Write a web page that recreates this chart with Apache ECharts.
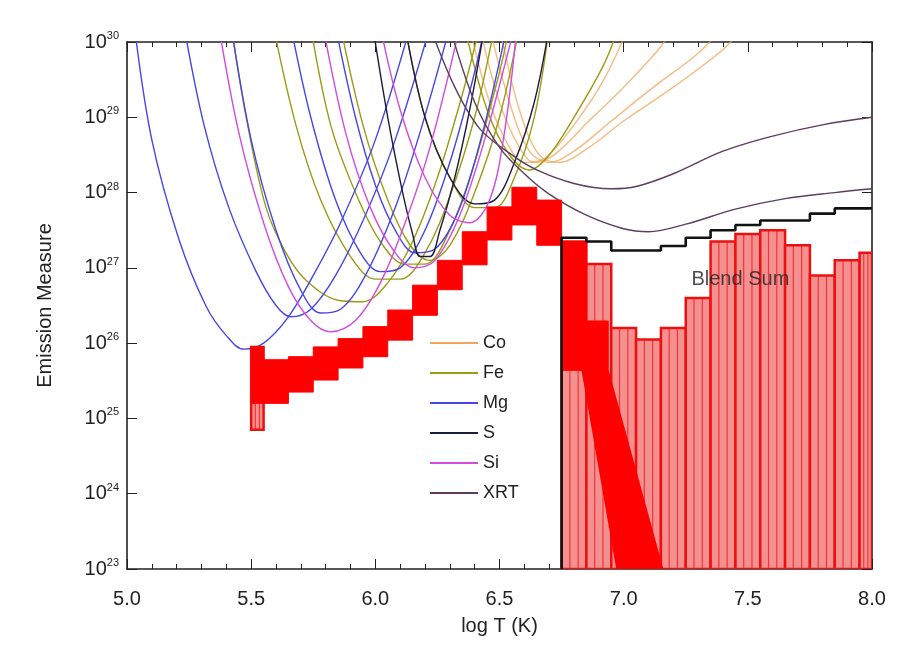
<!DOCTYPE html>
<html><head><meta charset="utf-8">
<script src="https://cdn.jsdelivr.net/npm/echarts@6/dist/echarts.min.js"></script>
<style>html,body{margin:0;padding:0;background:#fff}#c{width:897px;height:646px}</style>
</head><body><div id="c"></div>
<script>
// x = log T (K), y = log10 of Emission Measure
const X_RANGE = [5.0, 8.0];
const Y_EXP_RANGE = [23, 30];
const ELEMENTS = ['Co', 'Fe', 'Mg', 'S', 'Si', 'XRT'];

// EM loci curves, [logT, logEM]
const CO_CURVES = [
  [[6.38,30.2],[6.46,29.2],[6.54,28.6],[6.6,28.4],[6.68,28.45],[6.8,28.9],[6.92,29.5],[7.02,30.2]],
  [[6.42,30.2],[6.5,29.2],[6.58,28.6],[6.64,28.4],[6.72,28.5],[6.86,28.95],[7.0,29.4],[7.14,29.9],[7.2,30.2]],
  [[6.46,30.2],[6.54,29.2],[6.62,28.55],[6.7,28.4],[6.8,28.55],[6.95,28.95],[7.12,29.4],[7.3,29.85],[7.4,30.2]],
  [[6.5,30.2],[6.58,29.1],[6.66,28.5],[6.74,28.4],[6.86,28.6],[7.0,28.95],[7.2,29.4],[7.4,29.9],[7.48,30.2]]
];
const FE_CURVES = [
  [[5.42,30.2],[5.48,29.0],[5.56,27.8],[5.64,27.2],[5.72,26.84],[5.85,26.57],[5.95,26.55],[6.05,26.8],[6.15,27.35],[6.25,28.2],[6.35,29.3],[6.42,30.2]],
  [[5.59,30.2],[5.68,28.9],[5.78,27.9],[5.9,27.15],[6.0,26.85],[6.1,26.85],[6.2,27.2],[6.3,27.95],[6.4,29.0],[6.48,30.2]],
  [[5.74,30.2],[5.82,28.9],[5.92,28.0],[6.02,27.35],[6.12,27.05],[6.2,27.05],[6.3,27.5],[6.4,28.4],[6.5,29.6],[6.54,30.2]],
  [[5.86,30.2],[5.95,28.9],[6.05,27.9],[6.14,27.3],[6.22,27.1],[6.3,27.3],[6.4,28.0],[6.5,29.0],[6.58,30.2]],
  [[6.12,30.2],[6.2,29.0],[6.3,28.2],[6.4,27.8],[6.48,27.8],[6.56,28.2],[6.64,29.0],[6.7,30.2]],
  [[6.36,30.2],[6.45,29.1],[6.54,28.5],[6.62,28.3],[6.7,28.5],[6.8,29.0],[6.92,29.7],[6.98,30.2]]
];
const MG_CURVES = [
  [[5.03,30.2],[5.1,28.7],[5.21,27.37],[5.32,26.48],[5.4,26.1],[5.47,25.92],[5.55,26.0],[5.65,26.35],[5.75,26.9],[5.86,27.6],[6.0,28.7],[6.14,30.2]],
  [[5.23,30.2],[5.31,28.9],[5.41,27.8],[5.52,26.95],[5.6,26.5],[5.66,26.35],[5.74,26.45],[5.84,26.9],[5.96,27.7],[6.08,28.7],[6.22,30.2]],
  [[5.42,30.2],[5.5,28.7],[5.6,27.5],[5.7,26.7],[5.78,26.4],[5.86,26.45],[5.96,26.9],[6.08,27.8],[6.18,28.8],[6.3,30.2]],
  [[5.66,30.2],[5.74,29.0],[5.84,27.9],[5.94,27.2],[6.02,26.95],[6.1,27.0],[6.2,27.5],[6.3,28.4],[6.4,29.6],[6.44,30.2]],
  [[5.84,30.2],[5.92,29.0],[6.0,28.1],[6.08,27.5],[6.16,27.2],[6.24,27.25],[6.34,27.8],[6.44,28.9],[6.53,30.2]]
];
const S_CURVES = [
  [[5.99,30.2],[6.05,29.0],[6.11,28.0],[6.15,27.45],[6.18,27.15],[6.22,27.15],[6.26,27.5],[6.32,28.2],[6.38,29.1],[6.44,30.2]],
  [[6.12,30.2],[6.2,29.0],[6.3,28.2],[6.4,27.85],[6.48,27.9],[6.56,28.4],[6.64,29.2],[6.7,30.2]]
];
const SI_CURVES = [
  [[5.37,30.2],[5.45,28.8],[5.55,27.6],[5.65,26.75],[5.74,26.3],[5.82,26.15],[5.92,26.3],[6.02,26.8],[6.12,27.6],[6.22,28.6],[6.34,30.2]],
  [[5.79,30.2],[5.88,28.8],[5.98,27.8],[6.08,27.2],[6.16,27.0],[6.24,27.1],[6.34,27.7],[6.44,28.7],[6.56,30.2]],
  [[6.02,30.2],[6.1,29.1],[6.2,28.2],[6.3,27.7],[6.38,27.6],[6.46,27.9],[6.52,28.8],[6.57,30.2]]
];
const XRT_CURVES = [
  [[6.22,30.2],[6.32,29.4],[6.42,28.85],[6.55,28.5],[6.65,28.3],[6.8,28.12],[6.95,28.05],[7.05,28.08],[7.2,28.25],[7.4,28.55],[7.6,28.75],[7.8,28.9],[8.0,29.0]],
  [[6.3,30.2],[6.4,29.2],[6.5,28.6],[6.6,28.25],[6.7,27.98],[6.85,27.7],[7.0,27.52],[7.1,27.48],[7.25,27.58],[7.45,27.78],[7.65,27.92],[7.85,28.0],[8.0,28.05]]
];

// DEM solution bins: [logT from, logT to, logEM low, logEM high]
const DEM_BINS = [
  [5.50,5.55,25.20,25.95],[5.55,5.65,25.20,25.78],[5.65,5.75,25.35,25.82],
  [5.75,5.85,25.51,25.95],[5.85,5.95,25.67,26.06],[5.95,6.05,25.82,26.22],
  [6.05,6.15,26.04,26.44],[6.15,6.25,26.37,26.77],[6.25,6.35,26.71,27.10],
  [6.35,6.45,27.04,27.48],[6.45,6.55,27.37,27.81],[6.55,6.65,27.57,28.07],
  [6.65,6.75,27.30,27.90],[6.75,6.85,25.64,27.35]
];
// high-temperature tail of the DEM solution (outline vertices)
const DEM_TAIL = [[6.75,25.7],[6.85,25.7],[6.85,26.3],[6.94,26.3],[6.94,25.64],[7.16,23.0],[6.97,23.0],[6.83,25.64],[6.75,25.64]];
// Monte-Carlo spread bins: [logT from, logT to, logEM low, logEM high]
const MC_BINS = [
  [5.50,5.55,24.85,25.95],
  [6.75,6.85,23,27.35],[6.85,6.95,23,27.05],[6.95,7.05,23,26.20],[7.05,7.15,23,26.05],
  [7.15,7.25,23,26.20],[7.25,7.35,23,26.60],[7.35,7.45,23,27.35],[7.45,7.55,23,27.45],
  [7.55,7.65,23,27.50],[7.65,7.75,23,27.30],[7.75,7.85,23,26.90],[7.85,7.95,23,27.10],
  [7.95,8.00,23,27.20]
];
// summed (black) step curve
const SUM_STEPS = [[6.75,23],[6.75,27.40],[6.85,27.35],[6.95,27.23],[7.15,27.29],[7.25,27.40],[7.35,27.50],[7.45,27.57],[7.55,27.63],[7.75,27.72],[7.85,27.79],[8.0,27.79]];
const LABEL_POINT = [[7.47, 26.84]];
const LABEL_TEXT = 'Blend Sum';

const COLORS = {Co:'#f2a458', Fe:'#9b9b14', Mg:'#4646e4', S:'#1c1c3c', Si:'#d24ade', XRT:'#5e3d5e'};
const CURVES = {Co:CO_CURVES, Fe:FE_CURVES, Mg:MG_CURVES, S:S_CURVES, Si:SI_CURVES, XRT:XRT_CURVES};

const FONT = '"Liberation Sans", Arial, sans-serif';
const series = [];
ELEMENTS.forEach(el => {
  CURVES[el].forEach(c => {
    series.push({
      name: el, type: 'line', data: c, smooth: 0.35, showSymbol: false, symbol: 'none',
      lineStyle: {color: COLORS[el], width: 1.4, opacity: el === 'Co' ? 0.75 : 1},
      itemStyle: {color: COLORS[el]}, z: 2, silent: true, clip: true
    });
  });
});

function rectRender(fill, stroke, lw, inner) {
  return function (params, api) {
    const a = api.coord([api.value(0), api.value(3)]);
    const b = api.coord([api.value(1), api.value(2)]);
    const children = [{type:'rect', shape:{x:a[0], y:a[1], width:b[0]-a[0], height:b[1]-a[1]},
      style:{fill: fill, stroke: stroke, lineWidth: lw}}];
    if (inner) {
      [1/3, 2/3].forEach(f => {
        const m = a[0] + (b[0]-a[0]) * f;
        children.push({type:'line', shape:{x1:m, y1:a[1], x2:m, y2:b[1]}, style:{stroke: stroke, lineWidth: 1.2, opacity: 0.7}});
      });
    }
    return {type:'group', children};
  };
}

series.push({
  type:'custom', name:'mc', data: MC_BINS, encode:{x:[0,1], y:[2,3]}, clip:true, z:3, silent:true,
  renderItem: rectRender('#f59090', '#ee1010', 2.5, true)
});
series.push({
  type:'custom', name:'dem', data: DEM_BINS, encode:{x:[0,1], y:[2,3]}, clip:true, z:4, silent:true,
  renderItem: rectRender('#ff0000', '#ff0000', 1, false)
});
series.push({
  type:'custom', name:'tail', data: DEM_TAIL, encode:{x:0, y:1}, clip:true, z:4, silent:true,
  renderItem: function (params, api) {
    if (params.dataIndex !== 0) return null;
    const pts = DEM_TAIL.map(p => api.coord(p));
    return {type:'polygon', shape:{points: pts}, style:{fill:'#ff0000'}};
  }
});
series.push({
  type:'line', name:'sum', data: SUM_STEPS, step:'end', showSymbol:false, symbol:'none',
  lineStyle:{color:'#111', width:2.6}, z:5, silent:true
});
series.push({
  type:'scatter', name:'label', data: LABEL_POINT, symbolSize: 0, z:6, silent:true,
  label:{show:true, position:'inside', formatter: LABEL_TEXT, fontFamily: FONT, fontSize: 20, color:'#222'}
});

const supLabel = v => '{b|10}{s|' + v + '}';
const chart = echarts.init(document.getElementById('c'), null, {renderer:'canvas'});
chart.setOption({
  animation: false,
  backgroundColor: '#fff',
  grid: {left: 127, right: 25, top: 42, bottom: 77},
  legend: {
    data: ELEMENTS, orient: 'vertical', left: 425, top: 328, itemWidth: 48, itemHeight: 2,
    itemGap: 10, icon: 'rect', selectedMode: false,
    textStyle: {fontFamily: FONT, fontSize: 18, color: '#222', lineHeight: 20}
  },
  xAxis: [{
    type: 'value', min: X_RANGE[0], max: X_RANGE[1], interval: 0.5,
    name: 'log T (K)', nameLocation: 'middle', nameGap: 47,
    nameTextStyle: {fontFamily: FONT, fontSize: 20, color: '#222'},
    axisLine: {show: true, onZero: false, lineStyle: {color: '#222', width: 1.6}},
    axisTick: {show: true, inside: true, length: 10, lineStyle: {color: '#222'}},
    minorTick: {show: true, splitNumber: 5, length: 5, lineStyle: {color: '#222'}},
    splitLine: {show: false},
    axisLabel: {formatter: v => v.toFixed(1), fontFamily: FONT, fontSize: 20, color: '#222', margin: 20}
  }, {
    type: 'value', min: X_RANGE[0], max: X_RANGE[1], interval: 0.5, position: 'top',
    axisLine: {show: true, onZero: false, lineStyle: {color: '#222', width: 1.6}},
    axisTick: {show: true, inside: true, length: 10, lineStyle: {color: '#222'}},
    minorTick: {show: true, splitNumber: 5, length: 5, lineStyle: {color: '#222'}},
    splitLine: {show: false}, axisLabel: {show: false}
  }],
  yAxis: [{
    type: 'value', min: Y_EXP_RANGE[0], max: Y_EXP_RANGE[1], interval: 1,
    name: 'Emission Measure', nameLocation: 'middle', nameGap: 72, nameRotate: 90,
    nameTextStyle: {fontFamily: FONT, fontSize: 20, color: '#222'},
    axisLine: {show: true, onZero: false, lineStyle: {color: '#222', width: 1.6}},
    axisTick: {show: true, inside: true, length: 10, lineStyle: {color: '#222'}},
    splitLine: {show: false},
    axisLabel: {formatter: supLabel, margin: 8, color: '#222',
      rich: {b: {fontFamily: FONT, fontSize: 20, color: '#222'},
             s: {fontFamily: FONT, fontSize: 11, color: '#222', padding: [0, 0, 12, 0]}}}
  }, {
    type: 'value', min: Y_EXP_RANGE[0], max: Y_EXP_RANGE[1], interval: 1, position: 'right',
    axisLine: {show: true, onZero: false, lineStyle: {color: '#222', width: 1.6}},
    axisTick: {show: true, inside: true, length: 10, lineStyle: {color: '#222'}},
    splitLine: {show: false}, axisLabel: {show: false}
  }],
  series: series
});
</script></body></html>
